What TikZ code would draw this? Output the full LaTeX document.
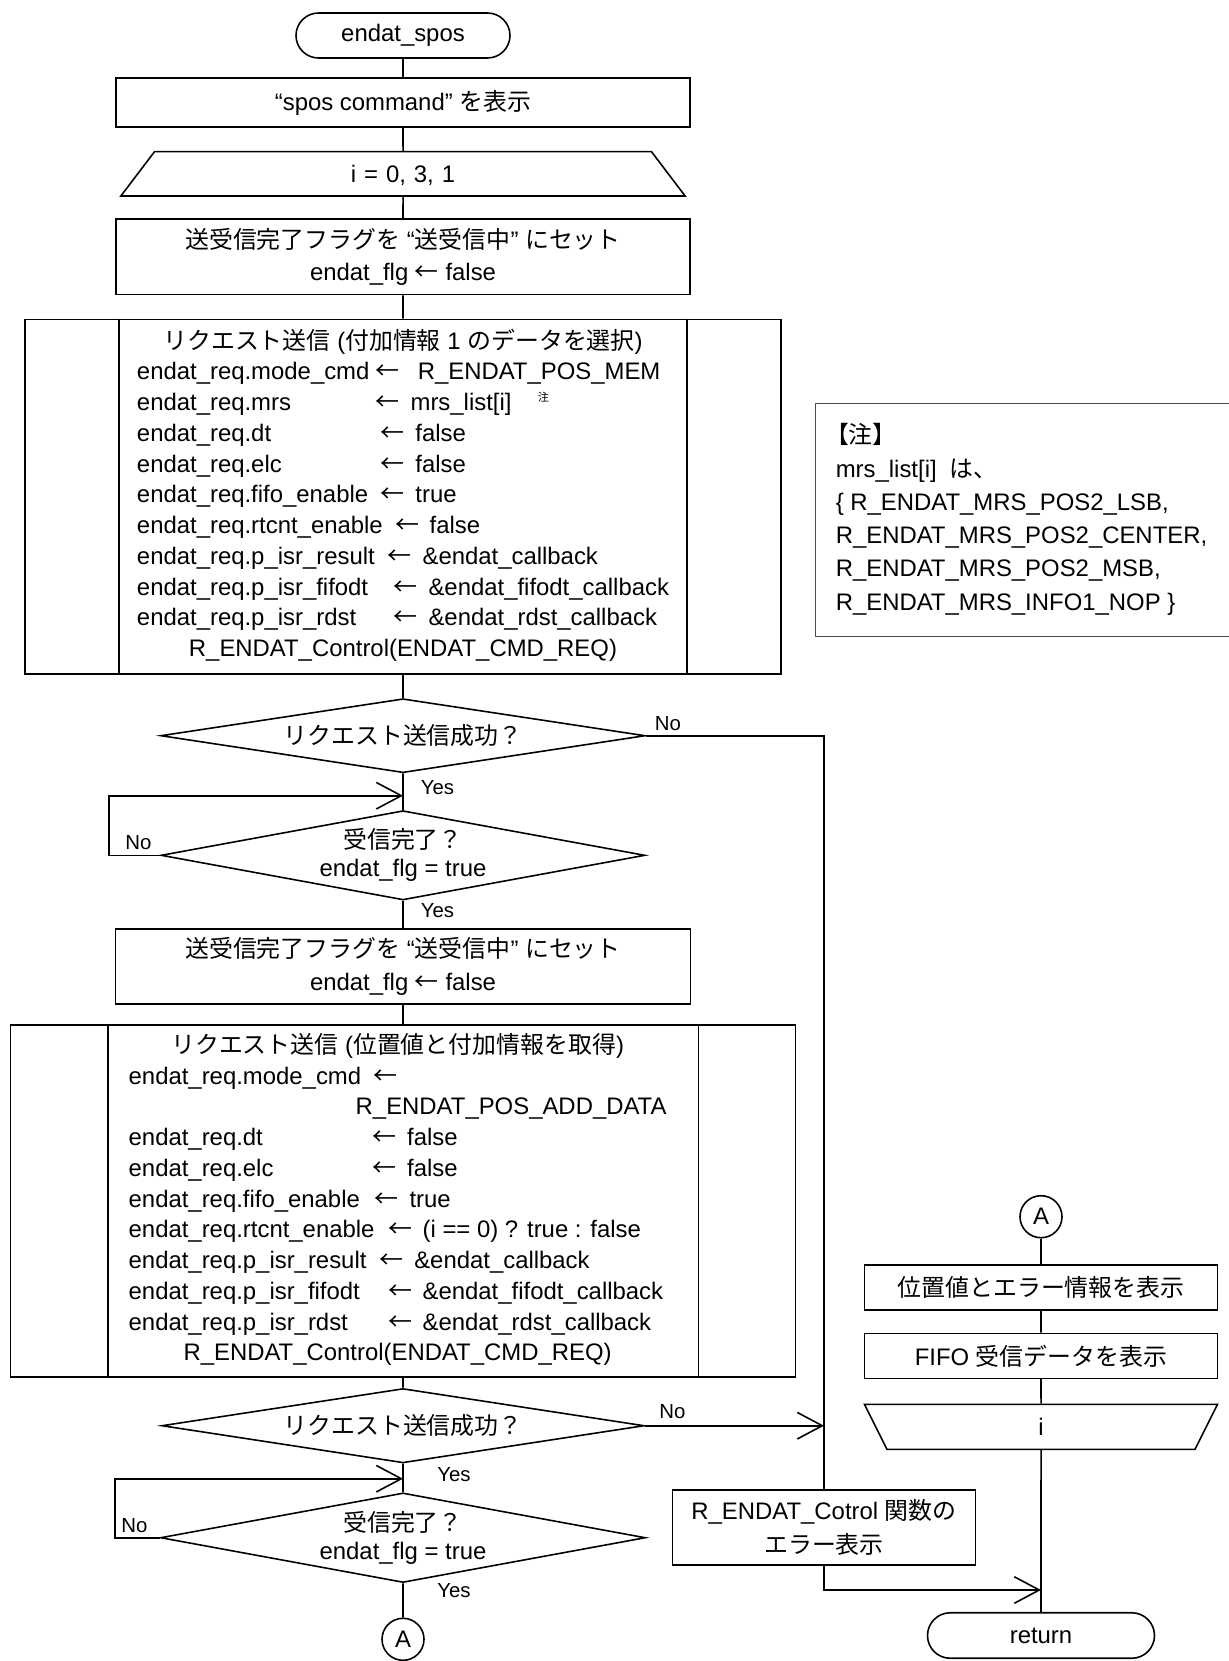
\documentclass[tikz,border=0pt]{standalone}
\usepackage{fontspec}
\setmainfont{Liberation Sans}
\newfontfamily\jp{Noto Sans CJK JP}
\usetikzlibrary{arrows.meta,shapes.geometric,shapes.misc}
\newcommand{\setfield}[2]{\makebox[#1em][l]{#2}{\jp ←}\hspace{.45em}}

\begin{document}
\begin{tikzpicture}[
  line width=0.9pt,
  every node/.style={font=\fontsize{13.6}{17.5}\selectfont},
  proc/.style={draw,rectangle,inner sep=0pt,align=center},
  term/.style={draw,rounded rectangle,inner sep=0pt,minimum height=0.9cm},
  dec/.style={draw,diamond,inner sep=0pt},
  dectxt/.style={align=center,inner sep=0pt,font=\fontsize{13.6}{15.9}\selectfont},
  subproc/.style={draw,rectangle,inner sep=0pt},
  loopst/.style={draw,trapezium,inner sep=0pt,align=center},
  conn/.style={draw,circle,inner sep=0pt,minimum size=0.84cm},
  lbl/.style={inner sep=0pt,font=\fontsize{11.6}{13}\selectfont},
  notebox/.style={draw=black!70,line width=0.6pt,rectangle,inner sep=0pt},
  notetxt/.style={align=left,inner sep=0pt,font=\fontsize{13.6}{18.9}\selectfont},
  flow/.style={-{Straight Barb[length=0.5cm,width=0.53cm]}}
]
\useasboundingbox (0,0) rectangle (24.56,-33.22);

% main column
\node[term,minimum width=4.28cm] (start) at (8.06,-0.71) {endat\_spos};
\node[proc,minimum width=11.48cm,minimum height=0.97cm] (spos) at (8.06,-2.05) {“spos command” {\jp を表示}};
\node[loopst,text width=9.94cm,text height=0.613cm,text depth=0.273cm,
  trapezium left angle=52.8,trapezium right angle=52.8] (loopA) at (8.06,-3.477) {i = 0, 3, 1};
\node[proc,minimum width=11.48cm,minimum height=1.514cm,font=\fontsize{13.6}{18.7}\selectfont] (flg1) at (8.06,-5.137)
  {{\jp 送受信完了フラグを} “{\jp 送受信中}” {\jp にセット}\\endat\_flg {\jp ←} false};

\node[subproc,minimum width=15.13cm,minimum height=7.094cm] (req1) at (8.06,-9.933) {%
  \begin{tabular}{@{}l@{}}
  \multicolumn{1}{@{}c@{}}{{\jp リクエスト送信} ({\jp 付加情報} 1 {\jp のデータを選択})}\\
  \setfield{10.0}{endat\_req.mode\_cmd}\hspace{.3em}R\_ENDAT\_POS\_MEM\\
  \setfield{10.0}{endat\_req.mrs}mrs\_list[i]\hspace{1.1em}\raisebox{5pt}{\fontsize{6.3}{7}\selectfont\jp 注}\\
  \setfield{10.2}{endat\_req.dt}false\\
  \setfield{10.2}{endat\_req.elc}false\\
  \setfield{10.2}{endat\_req.fifo\_enable}true\\
  \setfield{10.8}{endat\_req.rtcnt\_enable}false\\
  \setfield{10.5}{endat\_req.p\_isr\_result}\&endat\_callback\\
  \setfield{10.75}{endat\_req.p\_isr\_fifodt}\&endat\_fifodt\_callback\\
  \setfield{10.75}{endat\_req.p\_isr\_rdst}\&endat\_rdst\_callback\\
  \multicolumn{1}{@{}c@{}}{R\_ENDAT\_Control(ENDAT\_CMD\_REQ)}
  \end{tabular}};
\draw ([xshift=1.9cm]req1.north west) -- ([xshift=1.9cm]req1.south west);
\draw ([xshift=-1.9cm]req1.north east) -- ([xshift=-1.9cm]req1.south east);

\node[dec,minimum width=9.69cm,minimum height=1.48cm] (d1) at (8.06,-14.714) {};
\node[dectxt] (d1t) at (d1) {{\jp リクエスト送信成功？}};
\coordinate (m1) at (8.06,-15.914);
\node[dec,minimum width=9.68cm,minimum height=1.786cm] (d2) at (8.06,-17.106) {};
\node[dectxt] (d2t) at (d2) {{\jp 受信完了？}\\endat\_flg = true};

\node[proc,minimum width=11.5cm,minimum height=1.506cm,font=\fontsize{13.6}{18.7}\selectfont] (flg2) at (8.06,-19.327)
  {{\jp 送受信完了フラグを} “{\jp 送受信中}” {\jp にセット}\\endat\_flg {\jp ←} false};

\node[subproc,minimum width=15.7cm,minimum height=7.034cm] (req2) at (8.06,-24.017) {%
  \begin{tabular}{@{}l@{\hspace{0.216cm}}}
  \multicolumn{1}{@{}c@{\hspace{0.216cm}}}{{\jp リクエスト送信} ({\jp 位置値と付加情報を取得})}\\
  \setfield{10.25}{endat\_req.mode\_cmd}\\
  \hspace*{9.5em}R\_ENDAT\_POS\_ADD\_DATA\\
  \setfield{10.2}{endat\_req.dt}false\\
  \setfield{10.2}{endat\_req.elc}false\\
  \setfield{10.3}{endat\_req.fifo\_enable}true\\
  \setfield{10.85}{endat\_req.rtcnt\_enable}(i == 0) ? true : false\\
  \setfield{10.5}{endat\_req.p\_isr\_result}\&endat\_callback\\
  \setfield{10.85}{endat\_req.p\_isr\_fifodt}\&endat\_fifodt\_callback\\
  \setfield{10.85}{endat\_req.p\_isr\_rdst}\&endat\_rdst\_callback\\
  \multicolumn{1}{@{}c@{\hspace{0.216cm}}}{R\_ENDAT\_Control(ENDAT\_CMD\_REQ)}
  \end{tabular}};
\draw ([xshift=1.96cm]req2.north west) -- ([xshift=1.96cm]req2.south west);
\draw ([xshift=-1.96cm]req2.north east) -- ([xshift=-1.96cm]req2.south east);

\node[dec,minimum width=9.65cm,minimum height=1.488cm] (d3) at (8.06,-28.514) {};
\node[dectxt] (d3t) at (d3) {{\jp リクエスト送信成功？}};
\coordinate (m2) at (8.06,-29.574);
\node[dec,minimum width=9.7cm,minimum height=1.792cm] (d4) at (8.06,-30.754) {};
\node[dectxt] (d4t) at (d4) {{\jp 受信完了？}\\endat\_flg = true};
\node[conn] (conA) at (8.06,-32.786) {A};

% right column
\node[conn] (conB) at (20.82,-24.334) {A};
\node[proc,minimum width=7.06cm,minimum height=0.9cm] (disp1) at (20.82,-25.75) {{\jp 位置値とエラー情報を表示}};
\node[proc,minimum width=7.06cm,minimum height=0.9cm] (disp2) at (20.82,-27.116) {FIFO {\jp 受信データを表示}};
\node[loopst,text width=6.16cm,text height=0.62cm,text depth=0.28cm,
  trapezium left angle=116.6,trapezium right angle=116.6] (loopB) at (20.82,-28.536) {i};
\node[term,minimum width=4.54cm,minimum height=0.91cm] (ret) at (20.82,-32.71) {return};
\node[proc,minimum width=6.06cm,minimum height=1.5cm,font=\fontsize{13.6}{19.1}\selectfont] (err) at (16.48,-30.55)
  {R\_ENDAT\_Cotrol {\jp 関数の}\\{\jp エラー表示}};
\coordinate (j4) at (20.82,-31.8);

% note
\node[notebox,anchor=north west,minimum width=8.7cm,minimum height=4.667cm] (note) at (16.3,-8.054) {};
\node[notetxt,anchor=base west] (notet) at (16.7,-12.2)
  {\hspace*{-0.45em}{\jp 【注】}\\mrs\_list[i]\hspace{0.55em}{\jp は、}\\\{ R\_ENDAT\_MRS\_POS2\_LSB,\\R\_ENDAT\_MRS\_POS2\_CENTER,\\R\_ENDAT\_MRS\_POS2\_MSB,\\R\_ENDAT\_MRS\_INFO1\_NOP \}};

% connectors
\draw (start) -- (spos) -- (loopA) -- (flg1) -- (req1) -- (d1) -- (d2) -- (flg2) -- (req2) -- (d3) -- (d4) -- (conA);
\draw (conB) -- (disp1) -- (disp2) -- (loopB) -- (ret);
\draw (d1.east) -| (err.north);
\draw[flow] (d3.east) -- (d3.east -| err.north);
\draw[flow] (err.south) |- (j4);
\draw[flow] (d2.west) -- ++(-1.03,0) |- (m1);
\draw[flow] (d4.west) -- ++(-0.89,0) |- (m2);

\node[lbl,anchor=base west] (no1) at ([shift={(0.16,0.11)}]d1.east) {No};
\node[lbl,anchor=base west] (yes1) at ([shift={(0.34,-0.41)}]d1.south) {Yes};
\node[lbl,anchor=base east] (no2) at ([shift={(-0.16,0.11)}]d2.west) {No};
\node[lbl,anchor=base west] (yes2) at ([shift={(0.34,-0.34)}]d2.south) {Yes};
\node[lbl,anchor=base west] (no3) at ([shift={(0.27,0.15)}]d3.east) {No};
\node[lbl,anchor=base west] (yes3) at ([shift={(0.67,-0.35)}]d3.south) {Yes};
\node[lbl,anchor=base east] (no4) at ([shift={(-0.23,0.11)}]d4.west) {No};
\node[lbl,anchor=base west] (yes4) at ([shift={(0.67,-0.29)}]d4.south) {Yes};
\end{tikzpicture}
\end{document}
